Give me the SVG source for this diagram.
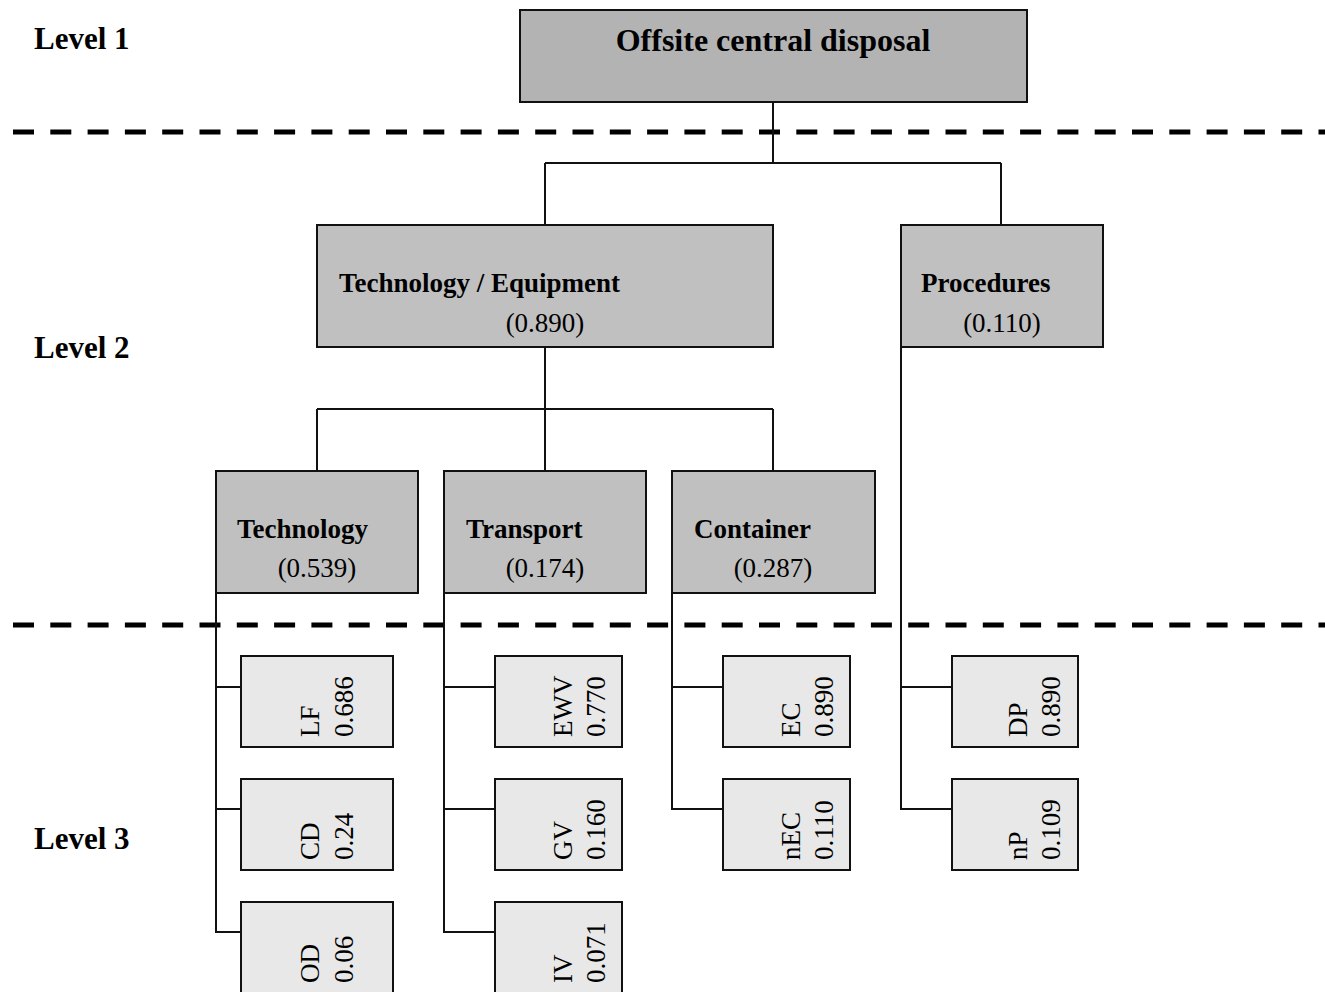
<svg xmlns="http://www.w3.org/2000/svg" width="1325" height="992" viewBox="0 0 1325 992">
  <style>
    .lvl { font-family: "Liberation Serif", "Times New Roman", serif; font-weight: bold; font-size: 31px; fill: #000; }
    .title { font-family: "Liberation Serif", "Times New Roman", serif; font-weight: bold; font-size: 32px; fill: #000; }
    .bold { font-family: "Liberation Serif", "Times New Roman", serif; font-weight: bold; font-size: 27px; fill: #000; }
    .num { font-family: "Liberation Serif", "Times New Roman", serif; font-size: 27px; fill: #000; }
    .leaf { font-family: "Liberation Serif", "Times New Roman", serif; font-size: 27px; fill: #000; }
    .top { fill: #b3b3b3; stroke: #111; stroke-width: 2; }
    .mid { fill: #c0c0c0; stroke: #111; stroke-width: 2; }
    .low { fill: #e8e8e8; stroke: #111; stroke-width: 2; }
    .dash { stroke: #000; stroke-width: 5; stroke-dasharray: 21 16.3; fill: none; }
    .conn { stroke: #111; stroke-width: 2; fill: none; }
  </style>

  <!-- level separators -->
  <g id="separators">
    <line class="dash" x1="13" y1="132" x2="1325" y2="132"/>
    <line class="dash" x1="13" y1="625" x2="1325" y2="625"/>
  </g>

  <!-- level labels -->
  <g id="levels">
    <text class="lvl" x="34" y="49">Level 1</text>
    <text class="lvl" x="34" y="358">Level 2</text>
    <text class="lvl" x="34" y="849">Level 3</text>
  </g>

  <!-- tree connectors -->
  <g id="connectors">
    <path class="conn" d="M773 102 V163 M545 163 H1001 M545 163 V225 M1001 163 V225"/>
    <path class="conn" d="M545 347 V409 M317 409 H773 M317 409 V471 M545 409 V471 M773 409 V471"/>
    <path class="conn" d="M216 593 V932 H241 M216 687 H241 M216 809 H241"/>
    <path class="conn" d="M444 593 V932 H495 M444 687 H495 M444 809 H495"/>
    <path class="conn" d="M672 593 V809 H723 M672 687 H723"/>
    <path class="conn" d="M901 347 V809 H952 M901 687 H952"/>
  </g>

  <!-- level 1 -->
  <g id="offsite">
    <rect class="top" x="520" y="10" width="507" height="92"/>
    <text class="title" x="773" y="51" text-anchor="middle">Offsite central disposal</text>
  </g>

  <!-- level 2 -->
  <g id="tech-equipment">
    <rect class="mid" x="317" y="225" width="456" height="122"/>
    <text class="bold" x="339" y="292">Technology / Equipment</text>
    <text class="num" x="545" y="332" text-anchor="middle">(0.890)</text>
  </g>
  <g id="procedures">
    <rect class="mid" x="901" y="225" width="202" height="122"/>
    <text class="bold" x="921" y="292">Procedures</text>
    <text class="num" x="1002" y="332" text-anchor="middle">(0.110)</text>
  </g>

  <!-- level 2 sub-criteria -->
  <g id="technology">
    <rect class="mid" x="216" y="471" width="202" height="122"/>
    <text class="bold" x="237" y="538">Technology</text>
    <text class="num" x="317" y="577" text-anchor="middle">(0.539)</text>
  </g>
  <g id="transport">
    <rect class="mid" x="444" y="471" width="202" height="122"/>
    <text class="bold" x="466" y="538">Transport</text>
    <text class="num" x="545" y="577" text-anchor="middle">(0.174)</text>
  </g>
  <g id="container">
    <rect class="mid" x="672" y="471" width="203" height="122"/>
    <text class="bold" x="694" y="538">Container</text>
    <text class="num" x="773" y="577" text-anchor="middle">(0.287)</text>
  </g>

  <!-- level 3 alternatives -->
  <g id="lf">
    <rect class="low" x="241" y="656" width="152" height="91"/>
    <g transform="translate(319 737) rotate(-90)"><text class="leaf" x="0" y="0">LF</text><text class="leaf" x="0" y="34">0.686</text></g>
  </g>
  <g id="cd">
    <rect class="low" x="241" y="779" width="152" height="91"/>
    <g transform="translate(319 860) rotate(-90)"><text class="leaf" x="0" y="0">CD</text><text class="leaf" x="0" y="34">0.24</text></g>
  </g>
  <g id="od">
    <rect class="low" x="241" y="902" width="152" height="95"/>
    <g transform="translate(319 983) rotate(-90)"><text class="leaf" x="0" y="0">OD</text><text class="leaf" x="0" y="34">0.06</text></g>
  </g>

  <g id="ewv">
    <rect class="low" x="495" y="656" width="127" height="91"/>
    <g transform="translate(572 737) rotate(-90)"><text class="leaf" x="0" y="0">EWV</text><text class="leaf" x="0" y="33">0.770</text></g>
  </g>
  <g id="gv">
    <rect class="low" x="495" y="779" width="127" height="91"/>
    <g transform="translate(572 860) rotate(-90)"><text class="leaf" x="0" y="0">GV</text><text class="leaf" x="0" y="33">0.160</text></g>
  </g>
  <g id="iv">
    <rect class="low" x="495" y="902" width="127" height="95"/>
    <g transform="translate(572 983) rotate(-90)"><text class="leaf" x="0" y="0">IV</text><text class="leaf" x="0" y="33">0.071</text></g>
  </g>

  <g id="ec">
    <rect class="low" x="723" y="656" width="127" height="91"/>
    <g transform="translate(800 737) rotate(-90)"><text class="leaf" x="0" y="0">EC</text><text class="leaf" x="0" y="33">0.890</text></g>
  </g>
  <g id="nec">
    <rect class="low" x="723" y="779" width="127" height="91"/>
    <g transform="translate(800 860) rotate(-90)"><text class="leaf" x="0" y="0">nEC</text><text class="leaf" x="0" y="33">0.110</text></g>
  </g>

  <g id="dp">
    <rect class="low" x="952" y="656" width="126" height="91"/>
    <g transform="translate(1027 737) rotate(-90)"><text class="leaf" x="0" y="0">DP</text><text class="leaf" x="0" y="33">0.890</text></g>
  </g>
  <g id="np">
    <rect class="low" x="952" y="779" width="126" height="91"/>
    <g transform="translate(1027 860) rotate(-90)"><text class="leaf" x="0" y="0">nP</text><text class="leaf" x="0" y="33">0.109</text></g>
  </g>
</svg>
